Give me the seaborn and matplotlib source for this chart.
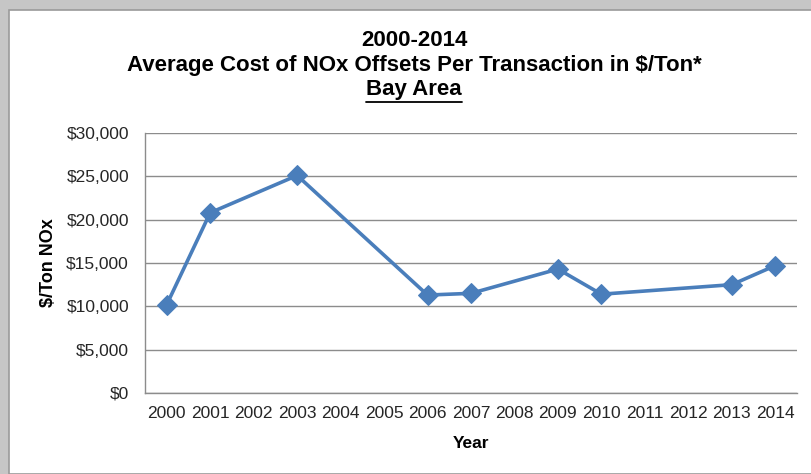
import matplotlib.pyplot as plt
import matplotlib as mpl
from matplotlib.patches import Rectangle
from matplotlib.lines import Line2D
from matplotlib.ticker import FuncFormatter, FixedLocator
import pandas as pd
import seaborn as sns

years = [2000, 2001, 2003, 2006, 2007, 2009, 2010, 2013, 2014]
costs = [10200, 20800, 25100, 11300, 11500, 14300, 11400, 12500, 14700]
year_labels = list(range(2000, 2015))
title_lines = ['2000-2014', 'Average Cost of NOx Offsets Per Transaction in $/Ton*', 'Bay Area']

sns.set_style('white')
mpl.rcParams['font.family'] = ['Liberation Sans', 'DejaVu Sans']

df = pd.DataFrame({'Year': years, 'Cost': costs})

fig = plt.figure(figsize=(8.11, 4.74), dpi=100)
fig.patch.set_facecolor('#c6c6c6')
fig.patches.append(Rectangle((9 / 811, 0), 1, 1 - 10 / 474, transform=fig.transFigure,
                             facecolor='white', edgecolor='#9a9a9a', linewidth=1.2, zorder=-10))

ax = fig.add_axes([145 / 811, 1 - 393 / 474, 652 / 811, 260 / 474])
ax.set_facecolor('white')

sns.lineplot(data=df, x='Year', y='Cost', ax=ax, color='#4a7ebb', linewidth=2.6,
             marker='D', markersize=10, markeredgecolor='#4a7ebb')

ax.set_xlim(1999.5, 2014.5)
ax.set_ylim(0, 30000)
ax.set_yticks(range(0, 30001, 5000))
ax.yaxis.set_major_formatter(FuncFormatter(lambda v, p: f'${v:,.0f}'))
ax.set_xticks(year_labels)
ax.set_xticklabels([str(y) for y in year_labels])
ax.xaxis.set_minor_locator(FixedLocator([y - 0.5 for y in year_labels] + [2014.5]))
ax.tick_params(axis='x', which='major', length=0, pad=9, labelsize=12.5, labelcolor='#262626')
ax.tick_params(axis='x', which='minor', length=3.5, color='#8c8c8c', direction='out')
ax.tick_params(axis='y', length=3.5, color='#8c8c8c', direction='out', pad=8,
               labelsize=12.5, labelcolor='#262626')
ax.grid(axis='y', color='#8c8c8c', linewidth=1)
ax.set_axisbelow(True)
for side in ['top', 'right']:
    ax.spines[side].set_visible(False)
for side in ['left', 'bottom']:
    ax.spines[side].set_color('#8c8c8c')
    ax.spines[side].set_linewidth(1)

ax.set_xlabel('Year', fontsize=12.5, fontweight='bold', labelpad=11, color='black')
ax.set_ylabel('$/Ton NOx', fontsize=13, fontweight='bold', labelpad=7, color='black')

ys = [1 - 40 / 474, 1 - 66 / 474, 1 - 90 / 474]
texts = []
for line, y in zip(title_lines, ys):
    texts.append(fig.text(414 / 811, y, line, ha='center', va='center',
                          fontsize=16, fontweight='bold', color='black'))

fig.canvas.draw()
bb = texts[2].get_window_extent().transformed(fig.transFigure.inverted())
fig.lines.append(Line2D([bb.x0, bb.x1], [bb.y0 - 0.003, bb.y0 - 0.003], transform=fig.transFigure,
                        color='black', linewidth=1.3))

fig.savefig('out.png', dpi=100, facecolor=fig.get_facecolor())
